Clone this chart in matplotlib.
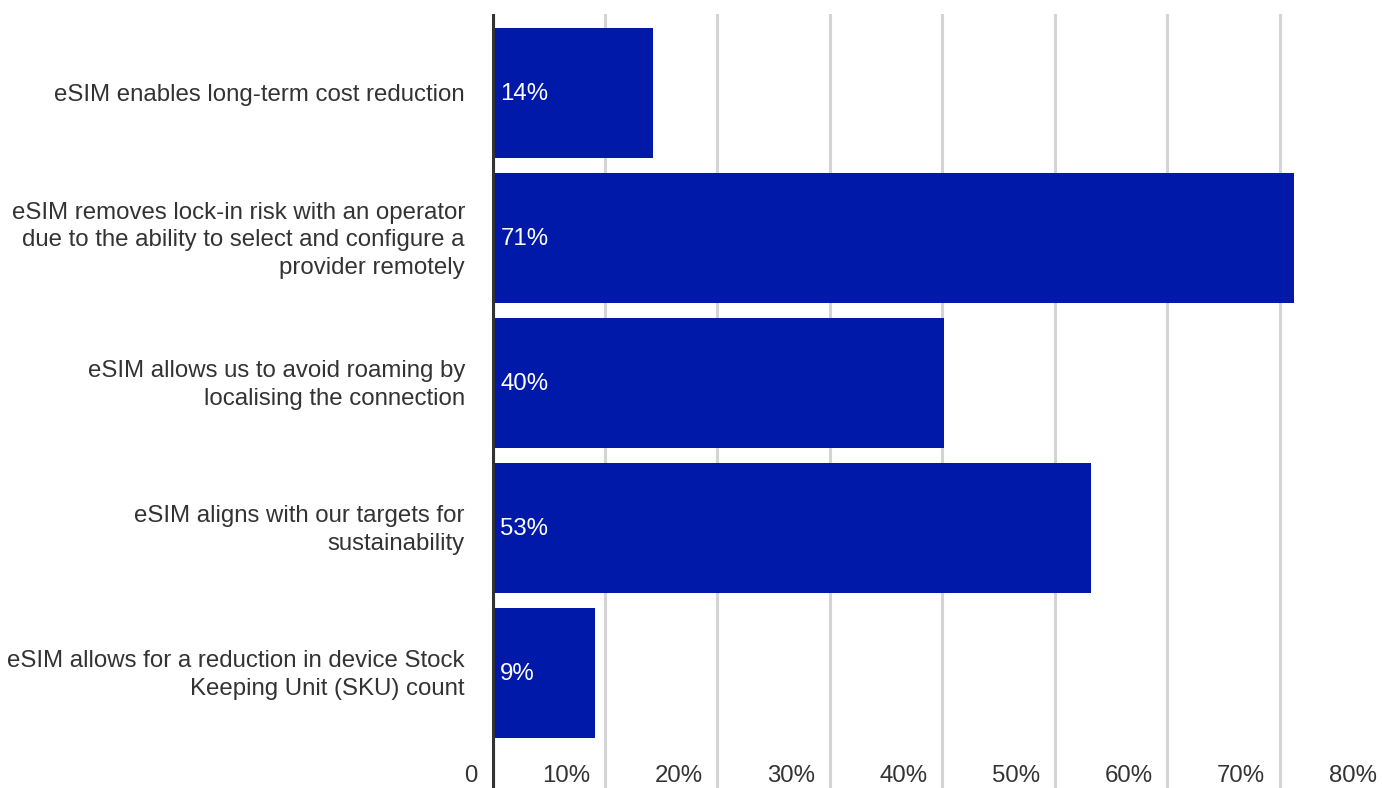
import matplotlib.pyplot as plt
import matplotlib.transforms as mtransforms

# Survey answers and their shares (%)
categories = [
    "eSIM enables long-term cost reduction",
    "eSIM removes lock-in risk with an operator\ndue to the ability to select and configure a\nprovider remotely",
    "eSIM allows us to avoid roaming by\nlocalising the connection",
    "eSIM aligns with our targets for\nsustainability",
    "eSIM allows for a reduction in device Stock\nKeeping Unit (SKU) count",
]
values = [14.3, 71.3, 40.2, 53.2, 9.2]
value_labels = ["14%", "71%", "40%", "53%", "9%"]
ticks = [0, 10, 20, 30, 40, 50, 60, 70, 80]
tick_labels = ["0", "10%", "20%", "30%", "40%", "50%", "60%", "70%", "80%"]

plt.rcParams['font.family'] = ['Liberation Sans', 'DejaVu Sans']
fs = 17.3

fig = plt.figure(figsize=(13.82, 7.88), dpi=100)
ax = fig.add_axes([492 / 1382, 0, 900 / 1382, 774 / 788])

ypos = list(range(len(categories)))
ax.barh(ypos, values, height=0.897, color='#0019A8', zorder=3)

ax.set_xlim(0, 80)
ax.set_ylim(4.793, -0.545)

# light vertical gridlines
for t in ticks[1:]:
    ax.axvline(t, color='#d4d4d4', lw=2.2, zorder=1)
# dark baseline
ax.axvline(0, color='#333333', lw=4.4, zorder=4)

for s in ax.spines.values():
    s.set_visible(False)
ax.set_xticks([])
ax.set_yticks([])

# category labels to the left of the axis
for y, c in zip(ypos, categories):
    ax.annotate(c, xy=(0, y), xytext=(-19.5, -1.5), textcoords='offset points',
                ha='right', va='center', fontsize=fs, color='#333333',
                linespacing=1.32, annotation_clip=False)

# value labels inside the bars
for y, lab in zip(ypos, value_labels):
    ax.annotate(lab, xy=(0, y), xytext=(6, -0.5), textcoords='offset points',
                ha='left', va='center', fontsize=fs, color='white', zorder=5)

# x tick labels drawn inside the plot bottom, right-aligned to gridlines
trans = mtransforms.blended_transform_factory(ax.transData, ax.transAxes)
for t, lab in zip(ticks, tick_labels):
    ax.annotate(lab, xy=(t, 0), xycoords=trans, xytext=(-10.5, 0.5),
                textcoords='offset points', ha='right', va='bottom',
                fontsize=fs, color='#333333', annotation_clip=False)

fig.savefig('out.png', dpi=100)
